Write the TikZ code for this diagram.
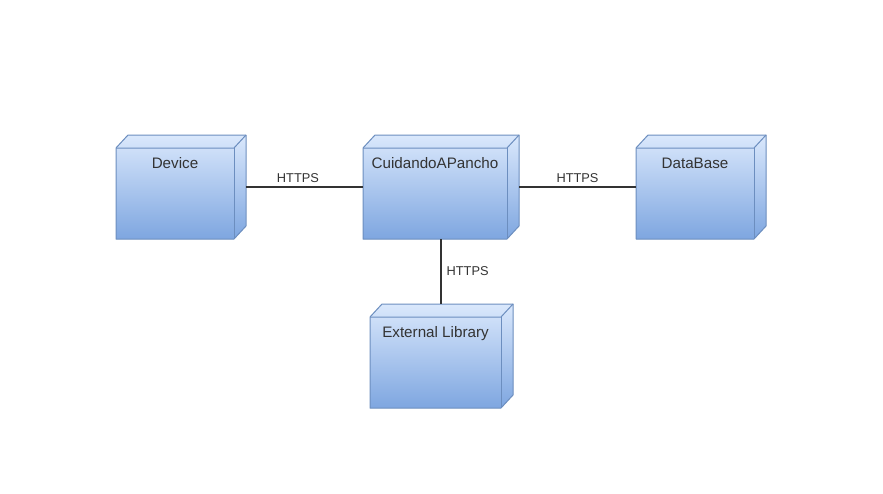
\documentclass[tikz,border=0pt]{standalone}
\usepackage{fontspec}
\setmainfont{Liberation Sans}
\definecolor{nodetop}{HTML}{DAE8FC}
\definecolor{nodebot}{HTML}{7EA6E0}
\definecolor{nodeborder}{HTML}{6C8EBF}
\definecolor{txt}{HTML}{333333}
\definecolor{edge}{HTML}{333333}
\tikzset{
  bbox/.style={rectangle, draw=none, inner sep=0pt, outer sep=0pt, anchor=north west},
  depshade/.style={top color=nodetop, bottom color=nodebot},
  depline/.style={draw=nodeborder, line width=1pt, line join=round},
  nodetext/.style={anchor=base, text=txt, font=\fontsize{15.2}{18}\selectfont, inner sep=0pt},
  conn/.style={draw=edge, line width=1.3pt},
  elabel/.style={text=txt, font=\fontsize{12.8}{15}\selectfont, inner sep=0pt},
}
\newcommand\depnode[6]{%
  \node[bbox, minimum width=#4pt, minimum height=#5pt] (#1) at (#2,#3) {};
  \shade[depshade] (#1.south west) -- ([yshift=-13pt]#1.north west) -- ([xshift=12pt]#1.north west)
     -- (#1.north east) -- ([yshift=13pt]#1.south east) -- ([xshift=-12pt]#1.south east) -- cycle;
  \draw[depline] (#1.south west) -- ([yshift=-13pt]#1.north west) -- ([xshift=12pt]#1.north west)
     -- (#1.north east) -- ([yshift=13pt]#1.south east) -- ([xshift=-12pt]#1.south east) -- cycle;
  \draw[depline] ([yshift=-13pt]#1.north west) -- ([xshift=-12pt,yshift=-13pt]#1.north east)
     -- (#1.north east);
  \draw[depline] ([xshift=-12pt,yshift=-13pt]#1.north east) -- ([xshift=-12pt]#1.south east);
  \node[nodetext] (#1-text) at ([xshift=-6pt,yshift=-33pt]#1.north) {#6};
}
\begin{document}
\begin{tikzpicture}[x=1pt,y=-1pt]
  \useasboundingbox (0,0) rectangle (883,493);
  \fill[white] (0,0) rectangle (883,493);
  \depnode{dev}{116}{135}{130}{104}{Device}
  \depnode{cap}{363}{135}{156}{104}{CuidandoAPancho}
  \depnode{db}{636}{135}{130}{104}{DataBase}
  \depnode{ext}{370}{304}{143}{104}{External Library}
  \draw[conn] (dev) -- node[elabel, pos=0.444, anchor=base, yshift=5pt] (l1) {HTTPS} (cap);
  \draw[conn] (cap) -- node[elabel, pos=0.5, anchor=base, yshift=5pt] (l2) {HTTPS} (db);
  \draw[conn] (cap.south) -- node[elabel, pos=0.5, anchor=west, xshift=5pt] (l3) {HTTPS} (cap.south |- ext.north);
\end{tikzpicture}
\end{document}
